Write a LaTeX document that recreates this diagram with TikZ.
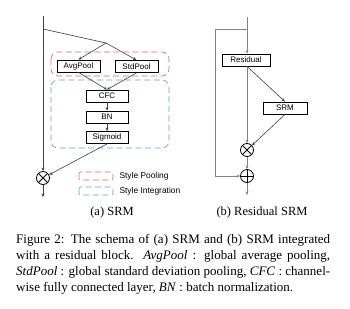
\documentclass[tikz,border=0pt]{standalone}
\usepackage{fontspec}
\setmainfont{Liberation Serif}
\setsansfont{Liberation Sans}
\usepackage{tikz}
\usetikzlibrary{positioning,arrows.meta}
\definecolor{pred}{RGB}{226,96,100}
\definecolor{iblue}{RGB}{100,150,230}
\definecolor{lnav}{RGB}{60,62,90}
\definecolor{lgry}{RGB}{130,130,135}
\tikzset{
  blk/.style={draw, thick, fill=white, inner sep=0pt, minimum height=12pt, font=\sffamily\fontsize{8}{9}\selectfont},
  op/.style={circle, draw, thick, inner sep=0pt, minimum size=13pt},
  mulop/.style={op, path picture={\draw (path picture bounding box.north west) -- (path picture bounding box.south east) (path picture bounding box.north east) -- (path picture bounding box.south west);}},
  addop/.style={op, path picture={\draw (path picture bounding box.north) -- (path picture bounding box.south) (path picture bounding box.east) -- (path picture bounding box.west);}},
  ar/.style={-{Stealth[length=3.5pt,width=3pt]}},
  la/.style={lnav, semithick},
  lb/.style={lgry, semithick},
  grp/.style={dashed, dash pattern=on 6pt off 3.5pt, semithick, rounded corners=7pt},
  lgd/.style={font=\sffamily\fontsize{8.4}{9}\selectfont, anchor=west},
  sub/.style={font=\fontsize{12.5}{14}\selectfont}
}
\begin{document}
\begin{tikzpicture}[x=1pt,y=-1pt]
  \useasboundingbox (0,0) rectangle (350,308);
  % (a) SRM
  \draw[grp, pred] (51,52) rectangle (169,76);
  \draw[grp, iblue] (51,80) rectangle (169,148);
  \coordinate (ain) at (43,16);
  \coordinate (asplit) at (43,29);
  \coordinate (afork) at (106,43);
  \node[blk, minimum width=43pt] (avg) at (78.5,66) {AvgPool};
  \node[blk, minimum width=43pt] (std) at (136.5,66.5) {StdPool};
  \node[blk, minimum width=42pt] (cfc) at (107,96) {CFC};
  \node[blk, minimum width=42pt] (bn) at (107,117) {BN};
  \node[blk, minimum width=42pt] (sig) at (107,137.5) {Sigmoid};
  \node[mulop] (amul) at (43,178) {};
  \coordinate (aout) at (43,197);
  \draw[la] (ain) -- (asplit);
  \draw[la, ar] (asplit) -- (amul);
  \draw[la] (asplit) -- (afork);
  \draw[la, ar] (afork) -- (avg.north);
  \draw[la, ar] (afork) -- (std.north);
  \draw[la, ar] (avg.south) -- (cfc.north);
  \draw[la, ar] (std.south) -- (cfc.north);
  \draw[la, ar] (cfc) -- (bn);
  \draw[la, ar] (bn) -- (sig);
  \draw[la, ar] (sig.south) -- (amul);
  \draw[la, ar] (amul) -- (aout);
  % legend
  \draw[grp, pred, rounded corners=2pt] (79,172) rectangle (113,180);
  \draw[grp, iblue, rounded corners=2pt] (79,187) rectangle (113,195);
  \node[lgd] (lpool) at (116,176) {Style Pooling};
  \node[lgd] (lint) at (116,191) {Style Integration};
  \node[sub] (capa) at (112,212) {(a) SRM};
  % (b) Residual SRM
  \coordinate (bin) at (247,17);
  \coordinate (bsplit) at (247,29);
  \coordinate (bskip) at (215,29);
  \coordinate (bturn) at (215,176);
  \node[blk, minimum width=48pt] (res) at (246,60) {Residual};
  \node[blk, minimum width=44pt] (srm) at (285,108) {SRM};
  \node[mulop] (bmul) at (247,150) {};
  \node[addop] (badd) at (247,176) {};
  \coordinate (bout) at (247,195);
  \draw[lb, ar] (bin) -- (res.north -| bin);
  \draw[lb] (bsplit) -- (bskip) -- (bturn);
  \draw[lb, ar] (bturn) -- (badd);
  \draw[lb, ar] (res.south -| bin) -- (bmul);
  \draw[la, ar] (res.south -| bin) -- (srm.north);
  \draw[la, ar] (srm.south) -- (bmul);
  \draw[lb, ar] (bmul) -- (badd);
  \draw[lb, ar] (badd) -- (bout);
  \node[sub] (capb) at (262,212) {(b) Residual SRM};
  % caption
  \node[anchor=north west, text width=314pt, align=justify, inner sep=0pt,
    font=\fontsize{13}{16}\selectfont] (cap) at (16,234.5)
    {Figure 2: The schema of (a) SRM and (b) SRM integrated\linebreak
     with a residual block. \textit{AvgPool} : global average pooling,\linebreak
     \textit{StdPool} : global standard deviation pooling, \textit{CFC} : channel-\linebreak
     wise fully connected layer, \textit{BN} : batch normalization.};
\end{tikzpicture}
\end{document}
